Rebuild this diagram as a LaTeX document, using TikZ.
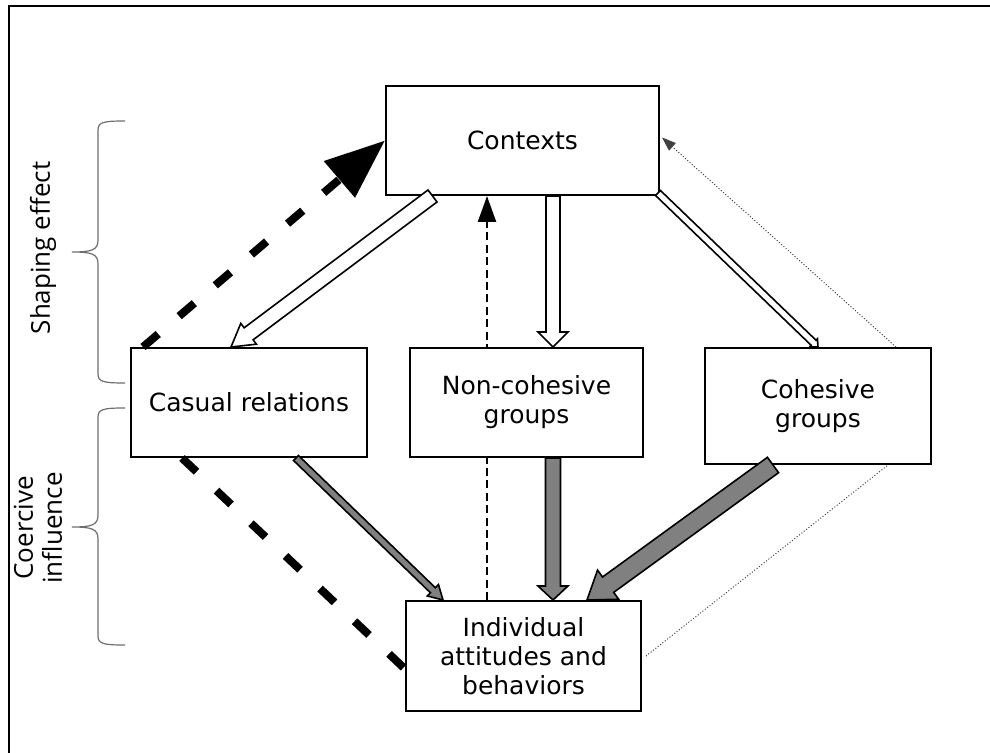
\documentclass[tikz,border=0pt]{standalone}
\usepackage{fontspec}
\setmainfont{DejaVu Sans}
\newfontfamily\sidefont{Open Sans}
\usepackage{tikz}
\usetikzlibrary{arrows.meta, positioning, calc, backgrounds}
\definecolor{arrowgray}{RGB}{128,128,128}
\definecolor{bracegray}{RGB}{110,110,110}

% fat arrow drawn as outline: half shaft width, half head width, head length
\tikzset{
  fat/.style n args={3}{to path={let \p1=(\tikztostart), \p2=(\tikztotarget),
      \n1={atan2(\y2-\y1,\x2-\x1)}, \n2={veclen(\x2-\x1,\y2-\y1)} in
      ($(\p1)+(\n1+90:#1)$) -- ++(\n1:{\n2-#3}) -- ++(\n1+90:{#2-#1}) -- (\p2)
      -- ($(\p1)+(\n1:{\n2-#3})+(\n1-90:#2)$) -- ++(\n1+90:{#2-#1})
      -- ($(\p1)+(\n1-90:#1)$) -- cycle}},
}
\newcommand{\sidebrace}[3]{%
  \draw[bracepen] (125,#1) .. controls (104,#1) and (98,#1+1) .. (98,#1+9)
    -- (98,#2-12) .. controls (98,#2-2) and (92,#2) .. (72,#2)
    .. controls (92,#2) and (98,#2+2) .. (98,#2+12)
    -- (98,#3-9) .. controls (98,#3-1) and (104,#3) .. (125,#3);}

\begin{document}
\begin{tikzpicture}[
  x=0.5pt, y=-0.5pt,
  box/.style={rectangle, draw, line width=1pt, fill=white, align=center,
              inner sep=0pt, font=\fontsize{12.5}{14.5}\selectfont},
  side/.style={rotate=90, align=center, inner sep=0pt,
               font=\sidefont\fontsize{13}{14.5}\selectfont},
  bracepen/.style={draw=bracegray, line width=0.6pt},
  hollow/.style={draw, line width=0.8pt, fill=white},
  grayarr/.style={draw, line width=0.8pt, fill=arrowgray},
  bigdash/.style={line width=4pt, dash pattern=on 10pt off 13.75pt},
  smalldash/.style={line width=1.2pt, dash pattern=on 4pt off 2.2pt},
  dotline/.style={line width=0.5pt, densely dotted, draw=black!75},
]
\useasboundingbox (0,0) rectangle (990,753);
\draw[line width=1pt] (8.5,753) -- (8.5,6.5) -- (990,6.5);

\node[box, minimum width=136.5pt, minimum height=54.5pt] (ctx) at (522.5,140.5) {Contexts};
\node[box, minimum width=116.5pt, minimum height=54.5pt, below=75.5pt of ctx, xshift=2pt] (ncg) {Non-cohesive\\groups};
\node[box, minimum width=118pt, minimum height=54.5pt, left=20.5pt of ncg] (cas) {Casual relations};
\node[box, minimum width=113pt, minimum height=58pt, right=30pt of ncg.north east, anchor=north west] (cg) {Cohesive\\groups};
\node[box, minimum width=117.5pt, minimum height=55pt, below=71pt of ncg, xshift=-1.5pt] (ind) {Individual\\attitudes and\\behaviors};

\node[side] (shape) at (43,248) {Shaping effect};
\node[side] (coer) at (38,528) {Coercive\\influence};
\sidebrace{121}{252}{383}
\sidebrace{408}{527}{645}

% from the contexts down
\draw[hollow] ([xshift=-45pt]ctx.south) to[fat={3.75pt}{6.5pt}{11pt}] ([xshift=-9pt]cas.north);
\draw[hollow] ([xshift=15.25pt]ctx.south) to[fat={3.5pt}{7.5pt}{7.5pt}] ([xshift=13.25pt]ncg.north);
\draw[hollow] ([xshift=-1pt,yshift=1.5pt]ctx.south east) to[fat={1.75pt}{2.75pt}{3pt}] (cg.north);

% into the individual
\draw[grayarr] ([xshift=23.5pt]cas.south) to[fat={1.75pt}{4pt}{7pt}] ([xshift=-40.25pt]ind.north);
\draw[grayarr] ([xshift=13.25pt]ncg.south) to[fat={3.75pt}{7.5pt}{7pt}] ([xshift=14.75pt]ind.north);
\draw[grayarr] ([xshift=-22.5pt]cg.south) to[fat={4.75pt}{9pt}{13pt}] ([xshift=31.75pt]ind.north);

% back up to the contexts
\draw[bigdash, -{Triangle[length=30pt,width=23pt]}] ([xshift=6.5pt]cas.north west) -- (ctx.west);
\draw[bigdash] ([xshift=26pt]cas.south west) -- ([yshift=-6.5pt]ind.west);
\begin{scope}[on background layer]
\draw[smalldash, -{Triangle[length=13pt,width=9pt]}] ([xshift=-18.25pt]ind.north) -- ([xshift=-17.75pt]ctx.south);
\end{scope}
\draw[dotline, -{Triangle[length=7pt,width=5pt]}] ([xshift=-18pt]cg.north east) -- ([xshift=1pt,yshift=1.5pt]ctx.east);
\draw[dotline] ([xshift=2pt]ind.east) -- ([xshift=-22pt]cg.south east);

\end{tikzpicture}
\end{document}
